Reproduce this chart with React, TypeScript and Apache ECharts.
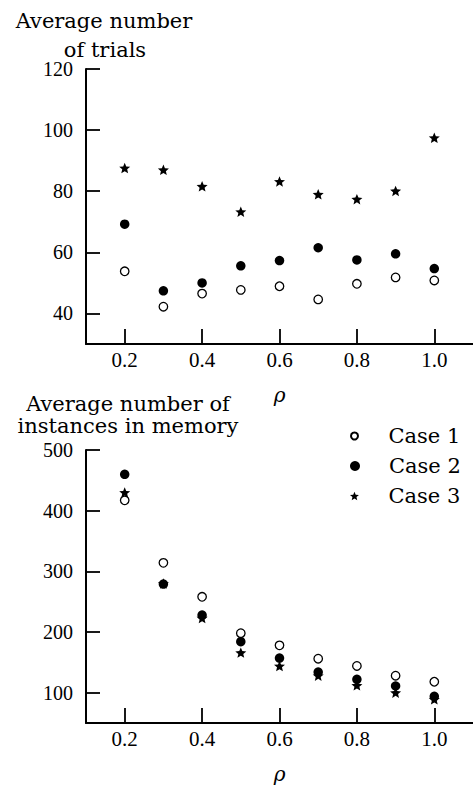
import React, { useEffect, useRef } from "react";
import * as echarts from "echarts";

const rho = [0.2, 0.3, 0.4, 0.5, 0.6, 0.7, 0.8, 0.9, 1.0];
const trialsCase1 = [53.8, 42.2, 46.5, 47.7, 48.9, 44.6, 49.7, 51.8, 50.8];
const trialsCase2 = [69.2, 47.4, 50.0, 55.6, 57.3, 61.5, 57.5, 59.5, 54.7];
const trialsCase3 = [87.6, 87.0, 81.6, 73.3, 83.2, 79.0, 77.4, 80.1, 97.5];
const memCase1 = [417, 314, 258, 198, 178, 156, 144, 128, 118];
const memCase2 = [460, 279, 228, 184, 157, 134, 122, 111, 94];
const memCase3 = [430, 280, 223, 166, 144, 128, 112, 100, 89];
const xTicks = [0.2, 0.4, 0.6, 0.8, 1.0];
const trialsTicks = [40, 60, 80, 100, 120];
const memTicks = [100, 200, 300, 400, 500];
const caseNames = ["Case 1", "Case 2", "Case 3"];

const STAR =
  "path://M0,-10 L2.645,-3.641 L9.511,-3.09 L4.28,1.391 L5.878,8.09 L0,4.5 L-5.878,8.09 L-4.28,1.391 L-9.511,-3.09 L-2.645,-3.641 Z";

const TITLE_FONT = "'DejaVu Serif', serif";
const TICK_FONT = "'Liberation Serif', serif";

export default function App() {
  const ref = useRef<HTMLDivElement>(null);
  useEffect(() => {
    if (!ref.current) return;
    const chart = echarts.init(ref.current, null, { renderer: "svg" });
    const pairs = (ys: number[]) => rho.map((r, i) => [r, ys[i]]);

    const xAxisBase = (gridIndex: number) => ({
      type: "value",
      gridIndex,
      min: 0.1,
      max: 1.1,
      name: "ρ",
      nameLocation: "middle",
      nameGap: 41,
      nameTextStyle: { fontFamily: TITLE_FONT, fontStyle: "italic", fontSize: 20, color: "#000" },
      axisLine: { show: true, onZero: false, lineStyle: { color: "#000", width: 2 } },
      axisTick: { show: true, inside: true, length: 15, customValues: xTicks, lineStyle: { color: "#000", width: 1.8 } },
      axisLabel: {
        customValues: xTicks,
        margin: 5,
        formatter: (v: number) => v.toFixed(1),
        fontFamily: TICK_FONT,
        fontSize: 21,
        color: "#000",
      },
      splitLine: { show: false },
    });
    const yAxisBase = (gridIndex: number, min: number, max: number, ticks: number[]) => ({
      type: "value",
      gridIndex,
      min,
      max,
      axisLine: { show: true, onZero: false, lineStyle: { color: "#000", width: 2 } },
      axisTick: { show: true, inside: true, length: 14, customValues: ticks, lineStyle: { color: "#000", width: 1.8 } },
      axisLabel: { customValues: ticks, margin: 13, fontFamily: TICK_FONT, fontSize: 20, color: "#000" },
      splitLine: { show: false },
    });

    const openStyle = { color: "#fff", borderColor: "#000", borderWidth: 1.3, opacity: 1 };
    const filledStyle = { color: "#000", opacity: 1 };
    const starStyle = { color: "#000", opacity: 1 };

    const mk = (name: string, idx: number, data: number[][], kind: number) => ({
      type: "scatter",
      name,
      xAxisIndex: idx,
      yAxisIndex: idx,
      data,
      symbol: kind === 2 ? STAR : "circle",
      symbolSize: kind === 0 ? 8.5 : kind === 1 ? 9.5 : 11,
      symbolKeepAspect: true,
      itemStyle: kind === 0 ? openStyle : kind === 1 ? filledStyle : starStyle,
      z: kind === 2 ? 1 : kind === 1 ? 3 : 2,
      emphasis: { disabled: true },
    });

    const legendTops = [424, 454, 484];
    const legendSizes = [7, 10, 8.5];

    chart.setOption({
      animation: false,
      backgroundColor: "#fff",
      grid: [
        { left: 86, top: 69, width: 390, height: 275 },
        { left: 86, top: 450, width: 390, height: 274 },
      ],
      xAxis: [xAxisBase(0), xAxisBase(1)],
      yAxis: [yAxisBase(0, 30, 120, trialsTicks), yAxisBase(1, 50, 500, memTicks)],
      legend: caseNames.map((n, i) => ({
        data: [n],
        orient: "vertical",
        left: 350,
        top: legendTops[i],
        padding: 0,
        itemWidth: 10,
        itemHeight: legendSizes[i],
        selectedMode: false,
        textStyle: { fontFamily: TITLE_FONT, fontSize: 21, color: "#000", lineHeight: 24, padding: [0, 0, 0, 24] },
      })),
      graphic: [
        { type: "text", x: 104, y: 21, style: { text: "Average number", align: "center", verticalAlign: "middle", font: "21px 'DejaVu Serif', serif", fill: "#000" } },
        { type: "text", x: 105, y: 50, style: { text: "of trials", align: "center", verticalAlign: "middle", font: "21px 'DejaVu Serif', serif", fill: "#000" } },
        { type: "text", x: 128, y: 404, style: { text: "Average number of", align: "center", verticalAlign: "middle", font: "21px 'DejaVu Serif', serif", fill: "#000" } },
        { type: "text", x: 128, y: 426, style: { text: "instances in memory", align: "center", verticalAlign: "middle", font: "21px 'DejaVu Serif', serif", fill: "#000" } },
      ],
      series: [
        mk(caseNames[0], 0, pairs(trialsCase1), 0),
        mk(caseNames[1], 0, pairs(trialsCase2), 1),
        mk(caseNames[2], 0, pairs(trialsCase3), 2),
        mk(caseNames[0], 1, pairs(memCase1), 0),
        mk(caseNames[1], 1, pairs(memCase2), 1),
        mk(caseNames[2], 1, pairs(memCase3), 2),
      ],
    });
    return () => chart.dispose();
  }, []);
  return (
    <div
      ref={ref}
      style={{ position: "fixed", left: 0, top: 0, width: 473, height: 785, background: "#fff" }}
    />
  );
}
